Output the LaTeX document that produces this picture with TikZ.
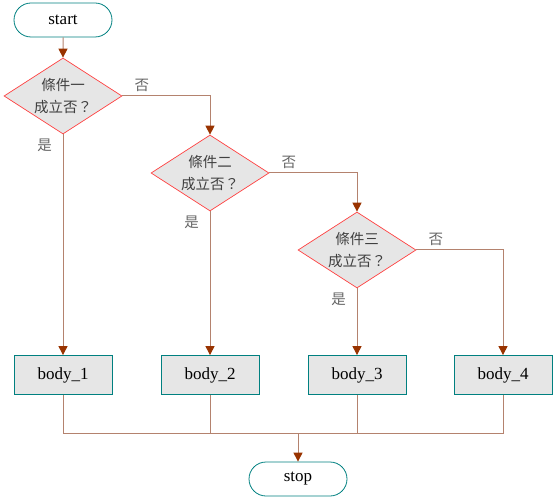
\documentclass[tikz,border=0pt]{standalone}
\usepackage{fontspec}
\setmainfont{Liberation Serif}
\newfontfamily\cjk{Noto Sans CJK TC}
\usetikzlibrary{arrows.meta,calc,shapes.geometric,shapes.misc}
\definecolor{boxline}{RGB}{0,128,128}
\definecolor{boxfill}{RGB}{230,230,230}
\definecolor{askline}{RGB}{255,64,64}
\definecolor{wirec}{RGB}{180,130,110}
\definecolor{tipc}{RGB}{153,51,0}
\tikzset{
  terminal/.style = {rounded rectangle, draw=boxline, fill=white, line width=0.8pt,
                     minimum width=98pt, minimum height=34pt, inner sep=0pt,
                     font=\fontsize{17}{20}\selectfont},
  body/.style     = {rectangle, draw=boxline, fill=boxfill, line width=0.8pt,
                     minimum width=98pt, minimum height=39pt, inner sep=0pt,
                     font=\fontsize{17}{20}\selectfont},
  ask/.style      = {diamond, draw=askline, fill=boxfill, line width=0.7pt, aspect=1.55,
                     minimum width=118pt, minimum height=76pt, inner sep=0pt,
                     align=center, text=black!75, font=\cjk\fontsize{14.5}{22}\selectfont},
  answer/.style   = {font=\cjk\fontsize{14.5}{16}\selectfont, text=black!60, inner sep=0pt},
  wire/.style     = {draw=wirec, line width=1pt},
  flow/.style     = {wire, -{Triangle[length=9pt,width=9pt,color=tipc]}},
}

\begin{document}
\begin{tikzpicture}[x=1pt,y=-1pt]
  \useasboundingbox (0,0) rectangle (556,502);

  % ---- start and the three questions -------------------------------------
  \node[terminal] (start) at (63,20) {start};
  \node[ask] (q1) at (63,96)  {條件一\\成立否？};
  \node[ask] (q2) at (210,173) {條件二\\成立否？};
  \node[ask] (q3) at (357,250) {條件三\\成立否？};

  % ---- bodies and stop ---------------------------------------------------
  \node[body] (b1) at (63,375)  {body\_1};
  \node[body] (b2) at (210,375) {body\_2};
  \node[body] (b3) at (357,375) {body\_3};
  \node[body] (b4) at (503,375) {body\_4};
  \node[terminal] (stop) at (298,479) {stop};
  \coordinate (bus) at (298,433);

  % ---- connectors --------------------------------------------------------
  \draw[flow] (start) -- (q1);
  \draw[flow] (q1.east) -| (q2.north);
  \draw[flow] (q2.east) -| (q3.north);
  \draw[flow] (q3.east) -| (b4.north);
  \draw[flow] (q1.south) -- (b1.north);
  \draw[flow] (q2.south) -- (b2.north);
  \draw[flow] (q3.south) -- (b3.north);

  \draw[wire] (b1.south) |- (bus);
  \draw[wire] (b4.south) |- (bus);
  \draw[wire] (b2.south) -- (b2.south |- bus);
  \draw[wire] (b3.south) -- (b3.south |- bus);
  \draw[flow] (bus) -- (stop.north);

  % ---- yes / no labels ---------------------------------------------------
  \foreach \q in {q1,q2,q3}{
    \node[answer, anchor=south west] (no-\q)  at ([xshift=12pt,yshift=4pt]\q.east) {否};
    \node[answer, anchor=north east] (yes-\q) at ([xshift=-11pt,yshift=-4pt]\q.south) {是};
  }
\end{tikzpicture}
\end{document}
